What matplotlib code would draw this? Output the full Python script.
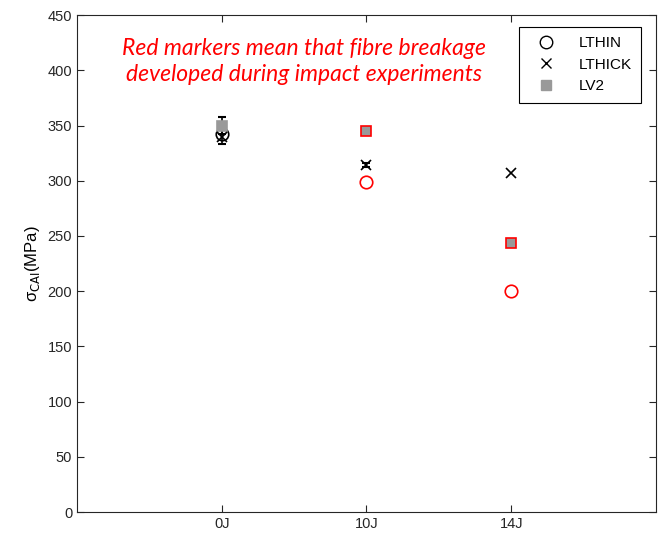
import matplotlib
matplotlib.use("Agg")
import matplotlib.pyplot as plt

plt.rcParams['font.family'] = ['Liberation Sans', 'DejaVu Sans']

energies = ['0J', '10J', '14J']
xpos = [1, 2, 3]

lthin = [342, 299, 200]
lthick = [340, 314, 307]
lthick_err = [7, 2, 0]
lv2 = [350, 345, 244]
lv2_err = [8, 0, 0]
# fibre breakage observed -> red marker edge
lthin_broken = [False, True, True]
lv2_broken = [False, True, True]

fig = plt.figure(figsize=(6.6, 5.39), dpi=100)
ax = fig.add_axes([0.1167, 0.050, 0.877, 0.922])

for x, y, br in zip(xpos, lthin, lthin_broken):
    ax.plot(x, y, 'o', ms=9, mfc='none', mec='red' if br else 'black', mew=1.2, zorder=3)

for x, y, br, e in zip(xpos, lv2, lv2_broken, lv2_err):
    if e:
        ax.errorbar(x, y, yerr=e, fmt='none', ecolor='black', capsize=3, elinewidth=1.2, capthick=1.5, zorder=2)
    ax.plot(x, y, 's', ms=7, mfc='#999999', mec='red' if br else '#999999', mew=1.2, zorder=3)

for x, y, e in zip(xpos, lthick, lthick_err):
    if e:
        ax.errorbar(x, y, yerr=e, fmt='none', ecolor='black', capsize=3, elinewidth=1.2, capthick=1.5, zorder=2)
    ax.plot(x, y, 'x', ms=7.5, color='black', mew=1.2, zorder=4)

# legend handles
ax.plot([], [], 'o', ms=9, mfc='none', mec='black', mew=1.0, label='LTHIN')
ax.plot([], [], 'x', ms=7.5, color='black', mew=1.0, label='LTHICK')
ax.plot([], [], 's', ms=7, mfc='#999999', mec='#999999', label='LV2')
leg = ax.legend(loc='upper right', fancybox=False, edgecolor='black', framealpha=1,
                fontsize=11, borderpad=0.6, handletextpad=1.0, borderaxespad=0,
                handlelength=2.3, labelspacing=0.5, bbox_to_anchor=(0.974, 0.976))
leg.get_frame().set_linewidth(0.8)

ax.set_xlim(0, 4)
ax.set_ylim(0, 450)
ax.set_xticks(xpos)
ax.set_xticklabels(energies)
ax.set_yticks(range(0, 451, 50))
ax.tick_params(direction='in', top=True, right=True, labelsize=10.5, length=5, colors='#262626')
for s in ax.spines.values():
    s.set_color('#262626')
    s.set_linewidth(0.8)
ax.set_ylabel('σ$_{\\mathrm{CAI}}$(MPa)', fontsize=12)

ax.text(1.57, 408, 'Red markers mean that fibre breakage\ndeveloped during impact experiments',
        color='red', fontsize=16.5, style='italic', ha='center', va='center',
        family=['Lato', 'DejaVu Sans'], linespacing=1.33)

fig.savefig('out.png', dpi=100)
